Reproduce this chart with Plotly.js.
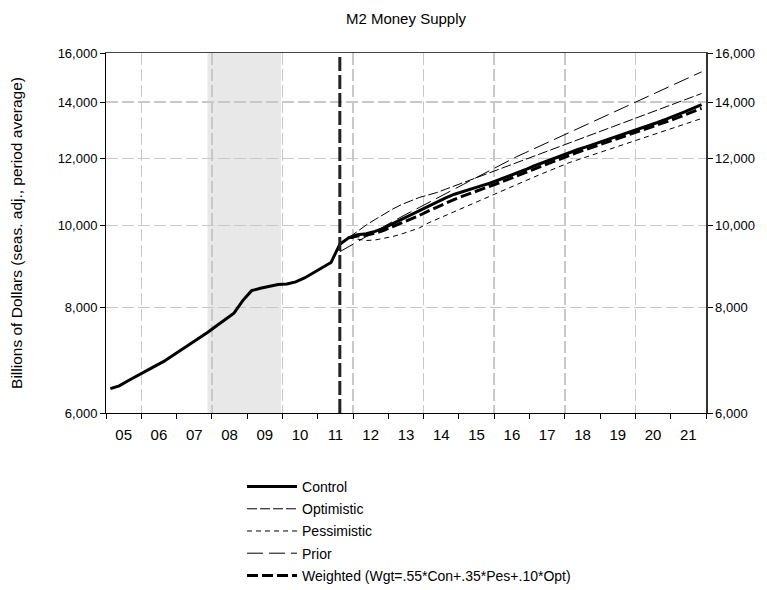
<!DOCTYPE html>
<html>
<head>
<meta charset="utf-8">
<script src="https://cdn.plot.ly/plotly-3.0.1.min.js"></script>
<style>html,body{margin:0;padding:0;background:#fff;}#chart{width:767px;height:590px;}</style>
</head>
<body>
<div id="chart"></div>
<script>
// Quarterly periods
const quarters = [
 "2005Q1","2005Q2","2005Q3","2005Q4","2006Q1","2006Q2","2006Q3","2006Q4",
 "2007Q1","2007Q2","2007Q3","2007Q4","2008Q1","2008Q2","2008Q3","2008Q4",
 "2009Q1","2009Q2","2009Q3","2009Q4","2010Q1","2010Q2","2010Q3","2010Q4",
 "2011Q1","2011Q2","2011Q3","2011Q4","2012Q1","2012Q2","2012Q3","2012Q4",
 "2013Q1","2013Q2","2013Q3","2013Q4","2014Q1","2014Q2","2014Q3","2014Q4",
 "2015Q1","2015Q2","2015Q3","2015Q4","2016Q1","2016Q2","2016Q3","2016Q4",
 "2017Q1","2017Q2","2017Q3","2017Q4","2018Q1","2018Q2","2018Q3","2018Q4",
 "2019Q1","2019Q2","2019Q3","2019Q4","2020Q1","2020Q2","2020Q3","2020Q4",
 "2021Q1","2021Q2","2021Q3","2021Q4"
];
// Control (history 2005Q1-2011Q3, forecast 2011Q4-2021Q4)
const control = [
 6412,6461,6550,6640, 6735,6814,6900,7010, 7123,7241,7356,7473,
 7605,7734,7877,8150, 8373,8430,8474,8515, 8525,8576,8668,8789,
 8919,9040,9503,9671,
 9750,9780,9840,9930, 10050,10170,10290,10400, 10530,10660,10780,10890,
 10980,11060,11140,11220, 11320,11420,11530,11640, 11760,11870,11980,12090,
 12200,12300,12400,12500, 12600,12700,12800,12900, 13020,13130,13240,13360,
 13480,13620,13760,13900
];
// Scenario forecasts start 2011Q4
const optimistic = [9671,
 9851,10014,10165,10318, 10459,10588,10690,10793, 10867,10941,11040,11139,
 11240,11341,11444,11547, 11651,11757,11863,11970, 12078,12187,12297,12408,
 12520,12633,12748,12863, 12979,13096,13214,13334, 13454,13576,13698,13822,
 13947,14073,14200,14328];
const pessimistic = [9671,
 9626,9600,9613,9652, 9705,9771,9851,9932, 10066,10173,10282,10392,
 10500,10612,10725,10840, 10953,11064,11179,11292, 11410,11525,11645,11763,
 11869,11963,12058,12154, 12247,12344,12442,12541, 12640,12744,12849,12954,
 13060,13168,13276,13385];
const weighted = [9671,
 9717,9740,9793,9872, 9970,10072,10176,10276, 10401,10518,10632,10741,
 10838,10931,11025,11120, 11225,11329,11441,11551, 11669,11781,11894,12007,
 12116,12215,12315,12415, 12514,12615,12716,12818, 12930,13040,13149,13264,
 13380,13507,13635,13763];
// Prior forecast starts 2011Q3
const prior = [9311,9444,
 9573,9705,9838,9973, 10110,10248,10375,10503, 10632,10763,10902,11043,
 11185,11329,11475,11623, 11773,11924,12057,12190, 12326,12462,12601,12741,
 12882,13025,13169,13315, 13463,13612,13763,13916, 14070,14227,14384,14544,
 14705,14869,15034,15200];

const yearLabels = ["05","06","07","08","09","10","11","12","13","14","15","16","17","18","19","20","21"];
const yearStarts = [2005,2006,2007,2008,2009,2010,2011,2012,2013,2014,2015,2016,2017,2018,2019,2020,2021];
const yTickVals = [6000,8000,10000,12000,14000,16000];
const yTickText = ["6,000","8,000","10,000","12,000","14,000","16,000"];
const recession = ["2007-11","2009-12"];   // shaded period (year-month)
const lastActual = "2011Q3";

// quarter label -> decimal year at mid-quarter
function qx(label){ const y = +label.slice(0,4), q = +label.slice(5); return y + (q - 0.5)/4; }
function mx(ym){ const y = +ym.slice(0,4), m = +ym.slice(5); return y + (m - 0.5)/12; }
const xAll = quarters.map(qx);
const fc = quarters.indexOf("2011Q4");
const pr = quarters.indexOf("2011Q3");

const FONT = "'Liberation Sans', Arial, sans-serif";
const GRIDDASH = "12px,4px";

const traces = [
 {name:"Prior", x:xAll.slice(pr), y:prior, mode:"lines", line:{color:"#000", width:1, dash:"16px,6px"}, legendrank:4, legendgroup:"d"},
 {name:"Pessimistic", x:xAll.slice(fc), y:pessimistic, mode:"lines", line:{color:"#000", width:1, dash:"5px,4px"}, legendrank:3, legendgroup:"c", xaxis:"x2", yaxis:"y2"},
 {name:"Optimistic", x:xAll.slice(fc), y:optimistic, mode:"lines", line:{color:"#000", width:1, dash:"10px,3px"}, legendrank:2, legendgroup:"b"},
 {name:"Weighted (Wgt=.55*Con+.35*Pes+.10*Opt)", x:xAll.slice(fc), y:weighted, mode:"lines", line:{color:"#000", width:3, dash:"11px,4px"}, legendrank:5, legendgroup:"e"},
 {name:"Control", x:xAll, y:control, mode:"lines", line:{color:"#000", width:3}, legendrank:1, legendgroup:"a"}
];
traces.forEach(t => t.hoverinfo = "skip");

const yr = [Math.log10(6000), Math.log10(16000)];
const layout = {
 width:767, height:590,
 margin:{l:106, r:61, t:53, b:177, autoexpand:false},
 paper_bgcolor:"#fff", plot_bgcolor:"#fff",
 font:{family:FONT, size:14, color:"#000"},
 title:{text:"M2 Money Supply", x:0.5293, xanchor:"center", y:0.969, yanchor:"middle", yref:"container", font:{family:FONT, size:15, color:"#000"}},
 showlegend:true,
 legend:{x:0.2267, xanchor:"left", y:-0.1611, yanchor:"top", traceorder:"grouped", tracegroupgap:1, itemwidth:50, bgcolor:"rgba(0,0,0,0)", font:{family:FONT, size:14}},
 xaxis:{
  range:[2005,2022], showgrid:false, zeroline:false, automargin:false,
  tickmode:"array", tickvals:yearStarts.map(v=>v+0.5), ticktext:yearLabels,
  ticks:"outside", ticklen:8, tickcolor:"rgba(0,0,0,0)", tickfont:{size:15},
  minor:{tickmode:"array", tickvals:yearStarts.concat([2022]), ticks:"outside", ticklen:5, tickcolor:"#000", showgrid:false},
  showline:true, linecolor:"#000", linewidth:1, mirror:false
 },
 xaxis2:{
  overlaying:"x", range:[2005,2022], side:"top", automargin:false,
  tickmode:"linear", tick0:2006, dtick:2, showticklabels:false, ticks:"",
  showgrid:true, gridcolor:"#c8c8c8", gridwidth:1.5, griddash:GRIDDASH, zeroline:false,
  showline:true, linecolor:"#444", linewidth:1.5
 },
 yaxis:{
  type:"log", range:yr, tickmode:"array", tickvals:yTickVals, ticktext:yTickText, automargin:false,
  ticks:"outside", ticklen:5, tickcolor:"#000", tickfont:{size:13},
  showgrid:true, gridcolor:"#c8c8c8", gridwidth:1.5, griddash:GRIDDASH, zeroline:false,
  showline:true, linecolor:"#000", linewidth:1,
  title:{text:"Billions of Dollars (seas. adj., period average)", standoff:31, font:{family:FONT, size:15.5}}
 },
 yaxis2:{
  overlaying:"y", side:"right", type:"log", range:yr, tickmode:"array", tickvals:yTickVals, ticktext:yTickText, automargin:false,
  ticks:"outside", ticklen:5, tickcolor:"#000", tickfont:{size:13}, showgrid:false, zeroline:false,
  showline:true, linecolor:"#333", linewidth:1.5
 },
 shapes:[
  {type:"rect", layer:"below", xref:"x", yref:"paper", x0:mx(recession[0]), x1:mx(recession[1]), y0:0, y1:1, fillcolor:"#e8e8e8", line:{width:0}},
  {type:"line", layer:"above", xref:"x", yref:"paper", x0:qx(lastActual), x1:qx(lastActual), y0:0, y1:1, line:{color:"#222", width:3, dash:"14px,4px"}}
 ]
};

Plotly.newPlot("chart", traces, layout, {staticPlot:true, displayModeBar:false});
</script>
</body>
</html>
